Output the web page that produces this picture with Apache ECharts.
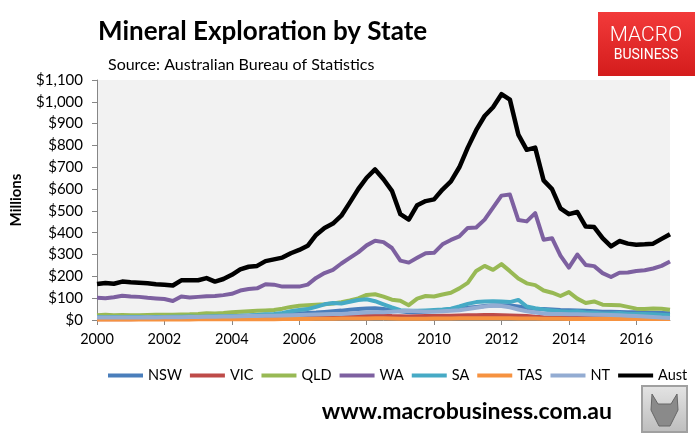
<!DOCTYPE html>
<html>
<head>
<meta charset="utf-8">
<title>Mineral Exploration by State</title>
<script src="https://cdn.jsdelivr.net/npm/echarts@6/dist/echarts.min.js"></script>
<style>
  html, body { margin: 0; padding: 0; background: #fff; }
  #chart { width: 700px; height: 442px; }
</style>
</head>
<body>
<div id="chart"></div>
<script>
// quarterly, Mar-2000 to Mar-2017, $ millions
var years = [2000, 2001, 2002, 2003, 2004, 2005, 2006, 2007, 2008, 2009, 2010, 2011, 2012, 2013, 2014, 2015, 2016, 2017];
var quarterNames = ['Q1', 'Q2', 'Q3', 'Q4'];

var nsw = [12, 12, 13, 12, 13, 13, 12, 13, 13, 13, 14, 14, 15, 15, 16, 17,
	18, 19, 20, 22, 23, 24, 26, 28, 30, 32, 34, 37, 40, 43, 47, 50,
	53, 54, 50, 45, 40, 36, 36, 38, 42, 45, 50, 53, 56, 60, 64, 66,
	68, 66, 62, 55, 52, 50, 48, 46, 45, 44, 42, 40, 38, 38, 37, 36,
	35, 34, 33, 32, 31];
var vic = [4, 4, 4, 4, 4, 5, 5, 5, 5, 5, 5, 5, 6, 6, 6, 7,
	7, 8, 8, 9, 9, 10, 10, 11, 12, 12, 13, 14, 15, 16, 17, 18,
	19, 20, 20, 18, 17, 16, 17, 18, 18, 19, 20, 21, 22, 22, 23, 23,
	22, 21, 20, 18, 15, 13, 12, 11, 10, 10, 9, 9, 8, 8, 8, 8,
	8, 8, 9, 9, 9];
var qld = [22, 24, 22, 23, 22, 22, 23, 24, 24, 24, 25, 26, 28, 31, 30, 32,
	35, 38, 40, 42, 44, 46, 52, 60, 65, 68, 70, 72, 76, 82, 90, 99,
	115, 118, 107, 93, 88, 68, 98, 110, 108, 117, 125, 145, 170, 225, 248, 230,
	256, 224, 190, 168, 160, 135, 125, 110, 128, 98, 78, 85, 70, 69, 68, 60,
	52, 50, 53, 52, 47];
var wa = [102, 100, 104, 111, 108, 106, 102, 99, 96, 87, 108, 103, 106, 109, 110, 114,
	120, 135, 142, 145, 164, 162, 153, 153, 153, 162, 193, 215, 230, 259, 285, 310,
	342, 363, 357, 330, 272, 263, 285, 306, 308, 347, 367, 383, 422, 424, 460, 515,
	570, 575, 458, 452, 490, 368, 375, 295, 240, 300, 252, 247, 215, 197, 217, 218,
	225, 228, 236, 248, 268];
var sa = [14, 13, 14, 13, 14, 14, 13, 14, 14, 15, 15, 16, 15, 16, 17, 17,
	18, 19, 21, 23, 26, 28, 32, 40, 46, 50, 60, 72, 78, 76, 84, 92,
	95, 86, 72, 58, 45, 42, 42, 44, 46, 48, 52, 62, 74, 82, 85, 86,
	85, 82, 92, 62, 54, 48, 44, 40, 38, 40, 34, 33, 30, 30, 32, 28,
	28, 27, 26, 24, 22];
var tas = [2, 2, 2, 2, 2, 2, 2, 2, 2, 2, 2, 2, 3, 3, 3, 3,
	3, 3, 4, 4, 4, 4, 5, 5, 5, 5, 6, 6, 6, 7, 7, 7,
	7, 8, 8, 7, 6, 6, 6, 6, 7, 7, 7, 8, 8, 8, 8, 8,
	8, 8, 7, 7, 7, 6, 6, 6, 5, 5, 5, 5, 5, 5, 5, 5,
	5, 5, 5, 5, 5];
var nt = [12, 11, 12, 12, 12, 12, 13, 12, 13, 13, 13, 14, 14, 15, 15, 16,
	16, 17, 18, 18, 19, 20, 21, 22, 23, 24, 25, 26, 27, 28, 30, 32,
	34, 35, 36, 38, 40, 42, 40, 38, 38, 40, 42, 45, 50, 56, 62, 66,
	64, 58, 48, 40, 34, 30, 28, 27, 26, 26, 25, 24, 24, 23, 22, 20,
	18, 16, 14, 11, 9];
var aust = [165, 170, 166, 176, 173, 171, 168, 164, 162, 158, 182, 182, 182, 192, 176, 188,
	207, 232, 244, 248, 270, 278, 286, 306, 321, 340, 390, 422, 442, 478, 538, 600,
	652, 690, 645, 592, 485, 460, 526, 545, 553, 598, 635, 700, 790, 870, 935, 975,
	1035, 1010, 850, 780, 790, 640, 600, 512, 485, 495, 428, 426, 375, 337, 362, 350,
	345, 347, 350, 372, 393];

var seriesNames = ['NSW', 'VIC', 'QLD', 'WA', 'SA', 'TAS', 'NT', 'Aust'];
var seriesData = [nsw, vic, qld, wa, sa, tas, nt, aust];
var seriesColors = ['#4a7ebb', '#be4b48', '#98b954', '#7d60a0', '#46aac5', '#f69240', '#93acd2', '#000000'];

var quarters = [];
years.forEach(function(y) {
	quarterNames.forEach(function(q) {
		quarters.push(y + ' ' + q);
	});
});
quarters = quarters.slice(0, aust.length);

var font = 'Lato, "Noto Sans", sans-serif';

function isYearTick(index) {
	return index % 8 === 0;
}

var chart = echarts.init(document.getElementById('chart'), null, { renderer: 'canvas' });

var option = {
	backgroundColor: '#ffffff',
	animation: false,
	textStyle: { fontFamily: font },
	title: [{
		text: 'Mineral Exploration by State',
		left: 98,
		top: 19,
		padding: 0,
		textStyle: { fontSize: 26, fontWeight: 'bold', color: '#000', fontFamily: font }
	}, {
		text: 'Source: Australian Bureau of Statistics',
		left: 108,
		top: 57,
		padding: 0,
		textStyle: { fontSize: 16, fontWeight: 'normal', color: '#000', fontFamily: font }
	}],
	grid: {
		left: 97,
		right: 30,
		top: 80,
		bottom: 122,
		show: true,
		backgroundColor: '#f2f2f2',
		borderWidth: 0
	},
	legend: {
		data: seriesNames,
		left: 108,
		top: 368,
		width: 592,
		padding: 0,
		icon: 'rect',
		itemWidth: 35,
		itemHeight: 4,
		itemGap: 8,
		textStyle: { fontSize: 14.5, color: '#000', fontFamily: font }
	},
	xAxis: {
		type: 'category',
		data: quarters,
		boundaryGap: false,
		axisLine: { lineStyle: { color: '#868686', width: 1 } },
		axisTick: { interval: isYearTick, length: 5, lineStyle: { color: '#868686' } },
		axisLabel: {
			interval: isYearTick,
			formatter: function(v) { return v.split(' ')[0]; },
			fontSize: 14.5,
			color: '#000',
			margin: 12
		},
		splitLine: { show: false }
	},
	yAxis: {
		type: 'value',
		min: 0,
		max: 1100,
		interval: 100,
		name: 'Millions',
		nameLocation: 'middle',
		nameRotate: 90,
		nameGap: 73,
		nameTextStyle: { fontSize: 15, fontWeight: 'bold', color: '#000', fontFamily: font },
		axisLine: { show: true, lineStyle: { color: '#868686', width: 1 } },
		axisTick: { show: true, length: 5, lineStyle: { color: '#868686' } },
		axisLabel: {
			fontSize: 15,
			color: '#000',
			margin: 14,
			formatter: function(v) { return '$' + v.toLocaleString('en-US'); }
		},
		splitLine: { show: false }
	},
	series: seriesNames.map(function(name, i) {
		return {
			name: name,
			type: 'line',
			data: seriesData[i],
			showSymbol: false,
			symbol: 'none',
			clip: false,
			color: seriesColors[i],
			lineStyle: { width: name === 'Aust' ? 4.5 : 4, color: seriesColors[i], join: 'round' },
			z: 2 + i
		};
	}),
	graphic: [{
		// MacroBusiness badge, top right
		type: 'group',
		left: 598,
		top: 12,
		children: [{
			type: 'rect',
			shape: { x: 0, y: 0, width: 97, height: 64 },
			style: {
				fill: new echarts.graphic.LinearGradient(0, 0, 0, 1, [
					{ offset: 0, color: '#f23a3a' },
					{ offset: 1, color: '#d41c1c' }
				])
			}
		}, {
			type: 'text',
			x: 48,
			y: 24,
			style: { text: 'MACRO', fill: '#fff', font: '300 21px Roboto', align: 'center', verticalAlign: 'middle' }
		}, {
			type: 'text',
			x: 48,
			y: 43,
			style: { text: 'BUSINESS', fill: '#fff', font: '400 14px Roboto', align: 'center', verticalAlign: 'middle' }
		}]
	}, {
		type: 'text',
		right: 88,
		top: 400,
		style: { text: 'www.macrobusiness.com.au', fill: '#000', font: 'bold 23px ' + font }
	}, {
		// wolf picture frame, bottom right
		type: 'group',
		left: 641,
		top: 385,
		children: [{
			type: 'rect',
			shape: { x: 0, y: 0, width: 45, height: 46 },
			style: {
				fill: new echarts.graphic.LinearGradient(0, 0, 0, 1, [
					{ offset: 0, color: '#e4e4e4' },
					{ offset: 1, color: '#bdbdbd' }
				]),
				stroke: '#a0a0a0',
				lineWidth: 2
			}
		}, {
			type: 'polygon',
			shape: { points: [[10, 8], [16, 18], [29, 18], [35, 8], [36, 24], [28, 40], [17, 40], [9, 24]] },
			style: { fill: '#8a8a8a', stroke: '#666', lineWidth: 1 }
		}]
	}]
};

chart.setOption(option);
</script>
</body>
</html>
